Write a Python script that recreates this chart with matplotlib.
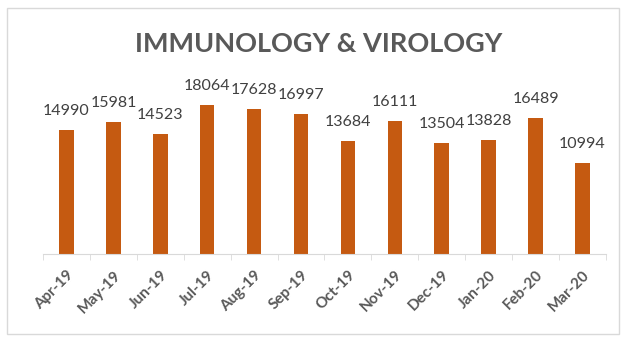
"""Immunology & Virology monthly volume, Apr-19 to Mar-20."""

import matplotlib.pyplot as plt
import numpy as np
from matplotlib.patches import Rectangle

months = [
    "Apr-19", "May-19", "Jun-19", "Jul-19", "Aug-19", "Sep-19",
    "Oct-19", "Nov-19", "Dec-19", "Jan-20", "Feb-20", "Mar-20",
]
counts = [14990, 15981, 14523, 18064, 17628, 16997,
          13684, 16111, 13504, 13828, 16489, 10994]

BAR = "#C55A11"
TEXT = "#595959"
GRID = "#D9D9D9"

plt.rcParams["font.family"] = ["Lato", "DejaVu Sans"]

fig = plt.figure(figsize=(6.24, 3.38), dpi=100)
ax = fig.add_axes([0.069, 0.2485, 0.902, 0.4882])

x = np.arange(len(months))
bars = ax.bar(x, counts, width=0.31, color=BAR)

for rect, val in zip(bars, counts):
    ax.annotate(
        f"{val}",
        xy=(rect.get_x() + rect.get_width() / 2, rect.get_height()),
        xytext=(0, 19),
        textcoords="offset pixels",
        ha="center",
        va="center",
        fontsize=11.5,
        color="#404040",
    )

ax.set_xlim(-0.5, len(months) - 0.5)
ax.set_ylim(0, 20000)

# category axis: labels at centres, tick marks between categories
ax.set_xticks(x)
ax.set_xticklabels(months, rotation=45, ha="right", rotation_mode="anchor",
                   fontsize=11, color=TEXT, fontweight="bold")
ax.tick_params(axis="x", which="major", length=0, pad=10)
ax.set_xticks(np.arange(-0.5, len(months)), minor=True)
ax.tick_params(axis="x", which="minor", length=4, color=GRID)
ax.set_yticks([])

for side in ["top", "right", "left"]:
    ax.spines[side].set_visible(False)
ax.spines["bottom"].set_color(GRID)

fig.text(0.51, 0.87, "IMMUNOLOGY & VIROLOGY", ha="center", va="center",
         fontsize=19.5, fontweight="bold", color=TEXT)

# chart frame
fig.patches.append(Rectangle((0.011, 0.012), 0.981, 0.965,
                             transform=fig.transFigure, fill=False,
                             edgecolor=GRID, linewidth=1))

fig.savefig("out.png", dpi=100)
